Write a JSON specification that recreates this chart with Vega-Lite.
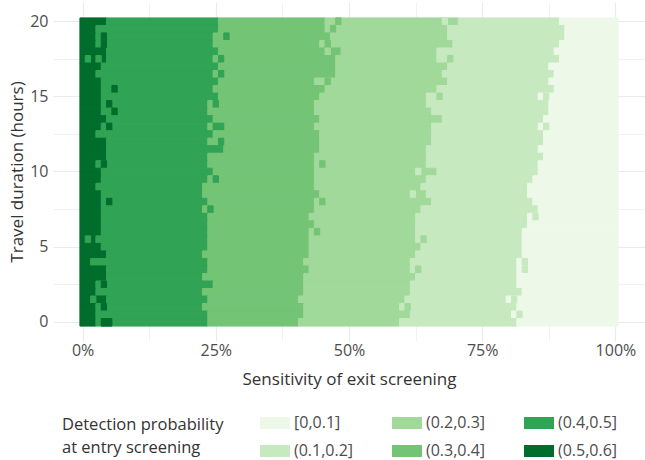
{
"$schema":"https://vega.github.io/schema/vega-lite/v6.json",
"width":592,"height":339,
"autosize":{"type":"none"},
"padding":{"left":53,"top":2,"right":0,"bottom":119},
"background":"white",
"config":{"view":{"stroke":null},"font":"Open Sans"},
"data":{"values":[
{"h":20,"a":-0.5,"b":4.5,"p":"(0.5,0.6]"},{"h":20,"a":4.5,"b":25.5,"p":"(0.4,0.5]"},{"h":20,"a":25.5,"b":45.5,"p":"(0.3,0.4]"},{"h":20,"a":45.5,"b":70.5,"p":"(0.2,0.3]"},{"h":20,"a":70.5,"b":89.5,"p":"(0.1,0.2]"},{"h":20,"a":89.5,"b":100.5,"p":"[0,0.1]"},{"h":20,"a":47.5,"b":48.5,"p":"(0.3,0.4]"},{"h":20,"a":67.5,"b":68.5,"p":"(0.1,0.2]"},
{"h":19.5,"a":-0.5,"b":2.5,"p":"(0.5,0.6]"},{"h":19.5,"a":2.5,"b":25.5,"p":"(0.4,0.5]"},{"h":19.5,"a":25.5,"b":45.5,"p":"(0.3,0.4]"},{"h":19.5,"a":45.5,"b":68.5,"p":"(0.2,0.3]"},{"h":19.5,"a":68.5,"b":90.5,"p":"(0.1,0.2]"},{"h":19.5,"a":90.5,"b":100.5,"p":"[0,0.1]"},{"h":19.5,"a":46.5,"b":47.5,"p":"(0.3,0.4]"},
{"h":19,"a":-0.5,"b":2.5,"p":"(0.5,0.6]"},{"h":19,"a":2.5,"b":24.5,"p":"(0.4,0.5]"},{"h":19,"a":24.5,"b":46.5,"p":"(0.3,0.4]"},{"h":19,"a":46.5,"b":68.5,"p":"(0.2,0.3]"},{"h":19,"a":68.5,"b":90.5,"p":"(0.1,0.2]"},{"h":19,"a":90.5,"b":100.5,"p":"[0,0.1]"},{"h":19,"a":3.5,"b":4.5,"p":"(0.5,0.6]"},{"h":19,"a":26.5,"b":27.5,"p":"(0.4,0.5]"},
{"h":18.5,"a":-0.5,"b":2.5,"p":"(0.5,0.6]"},{"h":18.5,"a":2.5,"b":24.5,"p":"(0.4,0.5]"},{"h":18.5,"a":24.5,"b":44.5,"p":"(0.3,0.4]"},{"h":18.5,"a":44.5,"b":69.5,"p":"(0.2,0.3]"},{"h":18.5,"a":69.5,"b":89.5,"p":"(0.1,0.2]"},{"h":18.5,"a":89.5,"b":100.5,"p":"[0,0.1]"},{"h":18.5,"a":3.5,"b":4.5,"p":"(0.5,0.6]"},{"h":18.5,"a":45.5,"b":46.5,"p":"(0.3,0.4]"},
{"h":18,"a":-0.5,"b":4.5,"p":"(0.5,0.6]"},{"h":18,"a":4.5,"b":25.5,"p":"(0.4,0.5]"},{"h":18,"a":25.5,"b":48.5,"p":"(0.3,0.4]"},{"h":18,"a":48.5,"b":66.5,"p":"(0.2,0.3]"},{"h":18,"a":66.5,"b":88.5,"p":"(0.1,0.2]"},{"h":18,"a":88.5,"b":100.5,"p":"[0,0.1]"},{"h":18,"a":45.5,"b":46.5,"p":"(0.2,0.3]"},
{"h":17.5,"a":-0.5,"b":4.5,"p":"(0.5,0.6]"},{"h":17.5,"a":4.5,"b":24.5,"p":"(0.4,0.5]"},{"h":17.5,"a":24.5,"b":47.5,"p":"(0.3,0.4]"},{"h":17.5,"a":47.5,"b":66.5,"p":"(0.2,0.3]"},{"h":17.5,"a":66.5,"b":89.5,"p":"(0.1,0.2]"},{"h":17.5,"a":89.5,"b":100.5,"p":"[0,0.1]"},{"h":17.5,"a":0.5,"b":1.5,"p":"(0.4,0.5]"},{"h":17.5,"a":2.5,"b":3.5,"p":"(0.4,0.5]"},{"h":17.5,"a":25.5,"b":26.5,"p":"(0.4,0.5]"},{"h":17.5,"a":68.5,"b":69.5,"p":"(0.2,0.3]"},
{"h":17,"a":-0.5,"b":3.5,"p":"(0.5,0.6]"},{"h":17,"a":3.5,"b":25.5,"p":"(0.4,0.5]"},{"h":17,"a":25.5,"b":47.5,"p":"(0.3,0.4]"},{"h":17,"a":47.5,"b":68.5,"p":"(0.2,0.3]"},{"h":17,"a":68.5,"b":87.5,"p":"(0.1,0.2]"},{"h":17,"a":87.5,"b":100.5,"p":"[0,0.1]"},
{"h":16.5,"a":-0.5,"b":2.5,"p":"(0.5,0.6]"},{"h":16.5,"a":2.5,"b":24.5,"p":"(0.4,0.5]"},{"h":16.5,"a":24.5,"b":47.5,"p":"(0.3,0.4]"},{"h":16.5,"a":47.5,"b":67.5,"p":"(0.2,0.3]"},{"h":16.5,"a":67.5,"b":88.5,"p":"(0.1,0.2]"},{"h":16.5,"a":88.5,"b":100.5,"p":"[0,0.1]"},{"h":16.5,"a":25.5,"b":26.5,"p":"(0.4,0.5]"},
{"h":16,"a":-0.5,"b":3.5,"p":"(0.5,0.6]"},{"h":16,"a":3.5,"b":25.5,"p":"(0.4,0.5]"},{"h":16,"a":25.5,"b":43.5,"p":"(0.3,0.4]"},{"h":16,"a":43.5,"b":68.5,"p":"(0.2,0.3]"},{"h":16,"a":68.5,"b":87.5,"p":"(0.1,0.2]"},{"h":16,"a":87.5,"b":100.5,"p":"[0,0.1]"},{"h":16,"a":45.5,"b":46.5,"p":"(0.3,0.4]"},
{"h":15.5,"a":-0.5,"b":3.5,"p":"(0.5,0.6]"},{"h":15.5,"a":3.5,"b":24.5,"p":"(0.4,0.5]"},{"h":15.5,"a":24.5,"b":45.5,"p":"(0.3,0.4]"},{"h":15.5,"a":45.5,"b":66.5,"p":"(0.2,0.3]"},{"h":15.5,"a":66.5,"b":88.5,"p":"(0.1,0.2]"},{"h":15.5,"a":88.5,"b":100.5,"p":"[0,0.1]"},{"h":15.5,"a":5.5,"b":6.5,"p":"(0.5,0.6]"},
{"h":15,"a":-0.5,"b":3.5,"p":"(0.5,0.6]"},{"h":15,"a":3.5,"b":25.5,"p":"(0.4,0.5]"},{"h":15,"a":25.5,"b":44.5,"p":"(0.3,0.4]"},{"h":15,"a":44.5,"b":64.5,"p":"(0.2,0.3]"},{"h":15,"a":64.5,"b":85.5,"p":"(0.1,0.2]"},{"h":15,"a":85.5,"b":100.5,"p":"[0,0.1]"},{"h":15,"a":66.5,"b":67.5,"p":"(0.2,0.3]"},{"h":15,"a":86.5,"b":87.5,"p":"(0.1,0.2]"},
{"h":14.5,"a":-0.5,"b":3.5,"p":"(0.5,0.6]"},{"h":14.5,"a":3.5,"b":23.5,"p":"(0.4,0.5]"},{"h":14.5,"a":23.5,"b":43.5,"p":"(0.3,0.4]"},{"h":14.5,"a":43.5,"b":64.5,"p":"(0.2,0.3]"},{"h":14.5,"a":64.5,"b":87.5,"p":"(0.1,0.2]"},{"h":14.5,"a":87.5,"b":100.5,"p":"[0,0.1]"},{"h":14.5,"a":4.5,"b":5.5,"p":"(0.5,0.6]"},{"h":14.5,"a":24.5,"b":25.5,"p":"(0.4,0.5]"},
{"h":14,"a":-0.5,"b":3.5,"p":"(0.5,0.6]"},{"h":14,"a":3.5,"b":23.5,"p":"(0.4,0.5]"},{"h":14,"a":23.5,"b":43.5,"p":"(0.3,0.4]"},{"h":14,"a":43.5,"b":65.5,"p":"(0.2,0.3]"},{"h":14,"a":65.5,"b":87.5,"p":"(0.1,0.2]"},{"h":14,"a":87.5,"b":100.5,"p":"[0,0.1]"},{"h":14,"a":5.5,"b":6.5,"p":"(0.5,0.6]"},
{"h":13.5,"a":-0.5,"b":4.5,"p":"(0.5,0.6]"},{"h":13.5,"a":4.5,"b":24.5,"p":"(0.4,0.5]"},{"h":13.5,"a":24.5,"b":44.5,"p":"(0.3,0.4]"},{"h":13.5,"a":44.5,"b":67.5,"p":"(0.2,0.3]"},{"h":13.5,"a":67.5,"b":86.5,"p":"(0.1,0.2]"},{"h":13.5,"a":86.5,"b":100.5,"p":"[0,0.1]"},
{"h":13,"a":-0.5,"b":3.5,"p":"(0.5,0.6]"},{"h":13,"a":3.5,"b":23.5,"p":"(0.4,0.5]"},{"h":13,"a":23.5,"b":43.5,"p":"(0.3,0.4]"},{"h":13,"a":43.5,"b":65.5,"p":"(0.2,0.3]"},{"h":13,"a":65.5,"b":85.5,"p":"(0.1,0.2]"},{"h":13,"a":85.5,"b":100.5,"p":"[0,0.1]"},{"h":13,"a":4.5,"b":5.5,"p":"(0.5,0.6]"},{"h":13,"a":24.5,"b":26.5,"p":"(0.4,0.5]"},{"h":13,"a":86.5,"b":87.5,"p":"(0.1,0.2]"},
{"h":12.5,"a":-0.5,"b":2.5,"p":"(0.5,0.6]"},{"h":12.5,"a":2.5,"b":24.5,"p":"(0.4,0.5]"},{"h":12.5,"a":24.5,"b":44.5,"p":"(0.3,0.4]"},{"h":12.5,"a":44.5,"b":65.5,"p":"(0.2,0.3]"},{"h":12.5,"a":65.5,"b":86.5,"p":"(0.1,0.2]"},{"h":12.5,"a":86.5,"b":100.5,"p":"[0,0.1]"},
{"h":12,"a":-0.5,"b":4.5,"p":"(0.5,0.6]"},{"h":12,"a":4.5,"b":23.5,"p":"(0.4,0.5]"},{"h":12,"a":23.5,"b":44.5,"p":"(0.3,0.4]"},{"h":12,"a":44.5,"b":65.5,"p":"(0.2,0.3]"},{"h":12,"a":65.5,"b":86.5,"p":"(0.1,0.2]"},{"h":12,"a":86.5,"b":100.5,"p":"[0,0.1]"},{"h":12,"a":25.5,"b":26.5,"p":"(0.4,0.5]"},
{"h":11.5,"a":-0.5,"b":4.5,"p":"(0.5,0.6]"},{"h":11.5,"a":4.5,"b":26.5,"p":"(0.4,0.5]"},{"h":11.5,"a":26.5,"b":44.5,"p":"(0.3,0.4]"},{"h":11.5,"a":44.5,"b":64.5,"p":"(0.2,0.3]"},{"h":11.5,"a":64.5,"b":85.5,"p":"(0.1,0.2]"},{"h":11.5,"a":85.5,"b":100.5,"p":"[0,0.1]"},
{"h":11,"a":-0.5,"b":4.5,"p":"(0.5,0.6]"},{"h":11,"a":4.5,"b":23.5,"p":"(0.4,0.5]"},{"h":11,"a":23.5,"b":43.5,"p":"(0.3,0.4]"},{"h":11,"a":43.5,"b":64.5,"p":"(0.2,0.3]"},{"h":11,"a":64.5,"b":86.5,"p":"(0.1,0.2]"},{"h":11,"a":86.5,"b":100.5,"p":"[0,0.1]"},
{"h":10.5,"a":-0.5,"b":2.5,"p":"(0.5,0.6]"},{"h":10.5,"a":2.5,"b":23.5,"p":"(0.4,0.5]"},{"h":10.5,"a":23.5,"b":43.5,"p":"(0.3,0.4]"},{"h":10.5,"a":43.5,"b":64.5,"p":"(0.2,0.3]"},{"h":10.5,"a":64.5,"b":85.5,"p":"(0.1,0.2]"},{"h":10.5,"a":85.5,"b":100.5,"p":"[0,0.1]"},{"h":10.5,"a":3.5,"b":4.5,"p":"(0.5,0.6]"},{"h":10.5,"a":44.5,"b":45.5,"p":"(0.3,0.4]"},
{"h":10,"a":-0.5,"b":3.5,"p":"(0.5,0.6]"},{"h":10,"a":3.5,"b":24.5,"p":"(0.4,0.5]"},{"h":10,"a":24.5,"b":43.5,"p":"(0.3,0.4]"},{"h":10,"a":43.5,"b":66.5,"p":"(0.2,0.3]"},{"h":10,"a":66.5,"b":85.5,"p":"(0.1,0.2]"},{"h":10,"a":85.5,"b":100.5,"p":"[0,0.1]"},{"h":10,"a":62.5,"b":63.5,"p":"(0.1,0.2]"},
{"h":9.5,"a":-0.5,"b":3.5,"p":"(0.5,0.6]"},{"h":9.5,"a":3.5,"b":23.5,"p":"(0.4,0.5]"},{"h":9.5,"a":23.5,"b":43.5,"p":"(0.3,0.4]"},{"h":9.5,"a":43.5,"b":64.5,"p":"(0.2,0.3]"},{"h":9.5,"a":64.5,"b":84.5,"p":"(0.1,0.2]"},{"h":9.5,"a":84.5,"b":100.5,"p":"[0,0.1]"},{"h":9.5,"a":24.5,"b":25.5,"p":"(0.4,0.5]"},
{"h":9,"a":-0.5,"b":2.5,"p":"(0.5,0.6]"},{"h":9,"a":2.5,"b":22.5,"p":"(0.4,0.5]"},{"h":9,"a":22.5,"b":43.5,"p":"(0.3,0.4]"},{"h":9,"a":43.5,"b":63.5,"p":"(0.2,0.3]"},{"h":9,"a":63.5,"b":83.5,"p":"(0.1,0.2]"},{"h":9,"a":83.5,"b":100.5,"p":"[0,0.1]"},
{"h":8.5,"a":-0.5,"b":3.5,"p":"(0.5,0.6]"},{"h":8.5,"a":3.5,"b":22.5,"p":"(0.4,0.5]"},{"h":8.5,"a":22.5,"b":44.5,"p":"(0.3,0.4]"},{"h":8.5,"a":44.5,"b":64.5,"p":"(0.2,0.3]"},{"h":8.5,"a":64.5,"b":83.5,"p":"(0.1,0.2]"},{"h":8.5,"a":83.5,"b":100.5,"p":"[0,0.1]"},{"h":8.5,"a":61.5,"b":62.5,"p":"(0.1,0.2]"},
{"h":8,"a":-0.5,"b":3.5,"p":"(0.5,0.6]"},{"h":8,"a":3.5,"b":23.5,"p":"(0.4,0.5]"},{"h":8,"a":23.5,"b":43.5,"p":"(0.3,0.4]"},{"h":8,"a":43.5,"b":65.5,"p":"(0.2,0.3]"},{"h":8,"a":65.5,"b":84.5,"p":"(0.1,0.2]"},{"h":8,"a":84.5,"b":100.5,"p":"[0,0.1]"},{"h":8,"a":4.5,"b":5.5,"p":"(0.5,0.6]"},{"h":8,"a":44.5,"b":45.5,"p":"(0.3,0.4]"},
{"h":7.5,"a":-0.5,"b":3.5,"p":"(0.5,0.6]"},{"h":7.5,"a":3.5,"b":22.5,"p":"(0.4,0.5]"},{"h":7.5,"a":22.5,"b":43.5,"p":"(0.3,0.4]"},{"h":7.5,"a":43.5,"b":63.5,"p":"(0.2,0.3]"},{"h":7.5,"a":63.5,"b":85.5,"p":"(0.1,0.2]"},{"h":7.5,"a":85.5,"b":100.5,"p":"[0,0.1]"},{"h":7.5,"a":23.5,"b":24.5,"p":"(0.4,0.5]"},
{"h":7,"a":-0.5,"b":3.5,"p":"(0.5,0.6]"},{"h":7,"a":3.5,"b":23.5,"p":"(0.4,0.5]"},{"h":7,"a":23.5,"b":42.5,"p":"(0.3,0.4]"},{"h":7,"a":42.5,"b":62.5,"p":"(0.2,0.3]"},{"h":7,"a":62.5,"b":83.5,"p":"(0.1,0.2]"},{"h":7,"a":83.5,"b":100.5,"p":"[0,0.1]"},{"h":7,"a":84.5,"b":85.5,"p":"(0.1,0.2]"},
{"h":6.5,"a":-0.5,"b":3.5,"p":"(0.5,0.6]"},{"h":6.5,"a":3.5,"b":23.5,"p":"(0.4,0.5]"},{"h":6.5,"a":23.5,"b":43.5,"p":"(0.3,0.4]"},{"h":6.5,"a":43.5,"b":62.5,"p":"(0.2,0.3]"},{"h":6.5,"a":62.5,"b":83.5,"p":"(0.1,0.2]"},{"h":6.5,"a":83.5,"b":100.5,"p":"[0,0.1]"},
{"h":6,"a":-0.5,"b":3.5,"p":"(0.5,0.6]"},{"h":6,"a":3.5,"b":23.5,"p":"(0.4,0.5]"},{"h":6,"a":23.5,"b":42.5,"p":"(0.3,0.4]"},{"h":6,"a":42.5,"b":62.5,"p":"(0.2,0.3]"},{"h":6,"a":62.5,"b":82.5,"p":"(0.1,0.2]"},{"h":6,"a":82.5,"b":100.5,"p":"[0,0.1]"},{"h":6,"a":43.5,"b":44.5,"p":"(0.3,0.4]"},
{"h":5.5,"a":-0.5,"b":2.5,"p":"(0.5,0.6]"},{"h":5.5,"a":2.5,"b":23.5,"p":"(0.4,0.5]"},{"h":5.5,"a":23.5,"b":42.5,"p":"(0.3,0.4]"},{"h":5.5,"a":42.5,"b":62.5,"p":"(0.2,0.3]"},{"h":5.5,"a":62.5,"b":82.5,"p":"(0.1,0.2]"},{"h":5.5,"a":82.5,"b":100.5,"p":"[0,0.1]"},{"h":5.5,"a":0.5,"b":1.5,"p":"(0.4,0.5]"},{"h":5.5,"a":63.5,"b":64.5,"p":"(0.2,0.3]"},
{"h":5,"a":-0.5,"b":3.5,"p":"(0.5,0.6]"},{"h":5,"a":3.5,"b":23.5,"p":"(0.4,0.5]"},{"h":5,"a":23.5,"b":42.5,"p":"(0.3,0.4]"},{"h":5,"a":42.5,"b":63.5,"p":"(0.2,0.3]"},{"h":5,"a":63.5,"b":82.5,"p":"(0.1,0.2]"},{"h":5,"a":82.5,"b":100.5,"p":"[0,0.1]"},
{"h":4.5,"a":-0.5,"b":4.5,"p":"(0.5,0.6]"},{"h":4.5,"a":4.5,"b":22.5,"p":"(0.4,0.5]"},{"h":4.5,"a":22.5,"b":42.5,"p":"(0.3,0.4]"},{"h":4.5,"a":42.5,"b":62.5,"p":"(0.2,0.3]"},{"h":4.5,"a":62.5,"b":82.5,"p":"(0.1,0.2]"},{"h":4.5,"a":82.5,"b":100.5,"p":"[0,0.1]"},
{"h":4,"a":-0.5,"b":1.5,"p":"(0.5,0.6]"},{"h":4,"a":1.5,"b":23.5,"p":"(0.4,0.5]"},{"h":4,"a":23.5,"b":41.5,"p":"(0.3,0.4]"},{"h":4,"a":41.5,"b":61.5,"p":"(0.2,0.3]"},{"h":4,"a":61.5,"b":81.5,"p":"(0.1,0.2]"},{"h":4,"a":81.5,"b":100.5,"p":"[0,0.1]"},{"h":4,"a":82.5,"b":83.5,"p":"(0.1,0.2]"},
{"h":3.5,"a":-0.5,"b":4.5,"p":"(0.5,0.6]"},{"h":3.5,"a":4.5,"b":23.5,"p":"(0.4,0.5]"},{"h":3.5,"a":23.5,"b":42.5,"p":"(0.3,0.4]"},{"h":3.5,"a":42.5,"b":61.5,"p":"(0.2,0.3]"},{"h":3.5,"a":61.5,"b":81.5,"p":"(0.1,0.2]"},{"h":3.5,"a":81.5,"b":100.5,"p":"[0,0.1]"},{"h":3.5,"a":62.5,"b":63.5,"p":"(0.2,0.3]"},{"h":3.5,"a":82.5,"b":83.5,"p":"(0.1,0.2]"},
{"h":3,"a":-0.5,"b":4.5,"p":"(0.5,0.6]"},{"h":3,"a":4.5,"b":22.5,"p":"(0.4,0.5]"},{"h":3,"a":22.5,"b":41.5,"p":"(0.3,0.4]"},{"h":3,"a":41.5,"b":62.5,"p":"(0.2,0.3]"},{"h":3,"a":62.5,"b":81.5,"p":"(0.1,0.2]"},{"h":3,"a":81.5,"b":100.5,"p":"[0,0.1]"},
{"h":2.5,"a":-0.5,"b":2.5,"p":"(0.5,0.6]"},{"h":2.5,"a":2.5,"b":24.5,"p":"(0.4,0.5]"},{"h":2.5,"a":24.5,"b":41.5,"p":"(0.3,0.4]"},{"h":2.5,"a":41.5,"b":61.5,"p":"(0.2,0.3]"},{"h":2.5,"a":61.5,"b":81.5,"p":"(0.1,0.2]"},{"h":2.5,"a":81.5,"b":100.5,"p":"[0,0.1]"},{"h":2.5,"a":3.5,"b":4.5,"p":"(0.5,0.6]"},
{"h":2,"a":-0.5,"b":2.5,"p":"(0.5,0.6]"},{"h":2,"a":2.5,"b":22.5,"p":"(0.4,0.5]"},{"h":2,"a":22.5,"b":41.5,"p":"(0.3,0.4]"},{"h":2,"a":41.5,"b":61.5,"p":"(0.2,0.3]"},{"h":2,"a":61.5,"b":82.5,"p":"(0.1,0.2]"},{"h":2,"a":82.5,"b":100.5,"p":"[0,0.1]"},
{"h":1.5,"a":-0.5,"b":4.5,"p":"(0.5,0.6]"},{"h":1.5,"a":4.5,"b":23.5,"p":"(0.4,0.5]"},{"h":1.5,"a":23.5,"b":40.5,"p":"(0.3,0.4]"},{"h":1.5,"a":40.5,"b":60.5,"p":"(0.2,0.3]"},{"h":1.5,"a":60.5,"b":79.5,"p":"(0.1,0.2]"},{"h":1.5,"a":79.5,"b":100.5,"p":"[0,0.1]"},{"h":1.5,"a":1.5,"b":2.5,"p":"(0.4,0.5]"},{"h":1.5,"a":80.5,"b":81.5,"p":"(0.1,0.2]"},
{"h":1,"a":-0.5,"b":2.5,"p":"(0.5,0.6]"},{"h":1,"a":2.5,"b":22.5,"p":"(0.4,0.5]"},{"h":1,"a":22.5,"b":41.5,"p":"(0.3,0.4]"},{"h":1,"a":41.5,"b":59.5,"p":"(0.2,0.3]"},{"h":1,"a":59.5,"b":81.5,"p":"(0.1,0.2]"},{"h":1,"a":81.5,"b":100.5,"p":"[0,0.1]"},{"h":1,"a":3.5,"b":4.5,"p":"(0.5,0.6]"},{"h":1,"a":60.5,"b":61.5,"p":"(0.2,0.3]"},
{"h":0.5,"a":-0.5,"b":2.5,"p":"(0.5,0.6]"},{"h":0.5,"a":2.5,"b":23.5,"p":"(0.4,0.5]"},{"h":0.5,"a":23.5,"b":41.5,"p":"(0.3,0.4]"},{"h":0.5,"a":41.5,"b":61.5,"p":"(0.2,0.3]"},{"h":0.5,"a":61.5,"b":80.5,"p":"(0.1,0.2]"},{"h":0.5,"a":80.5,"b":100.5,"p":"[0,0.1]"},{"h":0.5,"a":81.5,"b":82.5,"p":"(0.1,0.2]"},
{"h":0,"a":-0.5,"b":2.5,"p":"(0.5,0.6]"},{"h":0,"a":2.5,"b":23.5,"p":"(0.4,0.5]"},{"h":0,"a":23.5,"b":40.5,"p":"(0.3,0.4]"},{"h":0,"a":40.5,"b":59.5,"p":"(0.2,0.3]"},{"h":0,"a":59.5,"b":81.5,"p":"(0.1,0.2]"},{"h":0,"a":81.5,"b":100.5,"p":"[0,0.1]"},{"h":0,"a":3.5,"b":5.5,"p":"(0.5,0.6]"}
]},
"mark":{"type":"rect","binSpacing":0,"strokeWidth":1},
"encoding":{
"x":{"field":"a","type":"quantitative","title":"Sensitivity of exit screening",
 "scale":{"domain":[-5.55,105.55],"nice":false,"zero":false},
 "axis":{"zindex":0,"values":[0,12.5,25,37.5,50,62.5,75,87.5,100],"labelExpr":"datum.value % 25 === 0 ? datum.value + '%' : ''","grid":true,"gridColor":"#ebebeb","gridWidth":{"condition":{"test":"datum.value % 25 === 0","value":1.2},"value":0.7},"ticks":false,"domain":false,"labelFlush":false,"labelOverlap":false,"labelFontSize":16,"labelColor":"#4d4d4d","labelPadding":1,"titleFontSize":17,"titleFontWeight":"normal","titleColor":"#333333","titlePadding":13}},
"x2":{"field":"b"},
"y":{"field":"h","type":"quantitative","title":"Travel duration (hours)",
 "bin":{"step":0.5,"extent":[-0.25,20.25],"anchor":-0.25,"nice":false},
 "scale":{"domain":[-1.275,21.275],"nice":false,"zero":false},
 "axis":{"zindex":0,"values":[0,2.5,5,7.5,10,12.5,15,17.5,20],"labelExpr":"datum.value % 5 === 0 ? '' + datum.value : ''","grid":true,"gridColor":"#ebebeb","gridWidth":{"condition":{"test":"datum.value % 5 === 0","value":1.2},"value":0.7},"ticks":false,"domain":false,"labelFlush":false,"labelOverlap":false,"labelFontSize":16,"labelColor":"#4d4d4d","labelPadding":5,"titleFontSize":17,"titleFontWeight":"normal","titleColor":"#333333","titlePadding":3}},
"color":{"field":"p","type":"nominal","title":["Detection probability","at entry screening"],
 "scale":{"domain":["[0,0.1]","(0.1,0.2]","(0.2,0.3]","(0.3,0.4]","(0.4,0.5]","(0.5,0.6]"],"range":["#edf8e9","#c7e9c0","#a1d99b","#74c476","#31a354","#006d2c"]},
 "legend":{"orient":"none","legendX":9,"legendY":411,"columns":3,"padding":0,"symbolType":"M-1.5,-0.6H1.5V0.6H-1.5Z","symbolSize":400,"symbolStrokeWidth":0,"symbolOpacity":1,"labelOffset":9,"rowPadding":10,"columnPadding":38,"titleOrient":"left","titlePadding":41,"titleAnchor":"middle","titleBaseline":"middle","titleFontSize":16.5,"titleFontWeight":"normal","titleColor":"#333333","titleLineHeight":23,"titleAlign":"left","labelFontSize":16,"labelColor":"#4d4d4d"}},
"stroke":{"field":"p","type":"nominal","legend":null,
 "scale":{"domain":["[0,0.1]","(0.1,0.2]","(0.2,0.3]","(0.3,0.4]","(0.4,0.5]","(0.5,0.6]"],"range":["#edf8e9","#c7e9c0","#a1d99b","#74c476","#31a354","#006d2c"]}}
}
}
